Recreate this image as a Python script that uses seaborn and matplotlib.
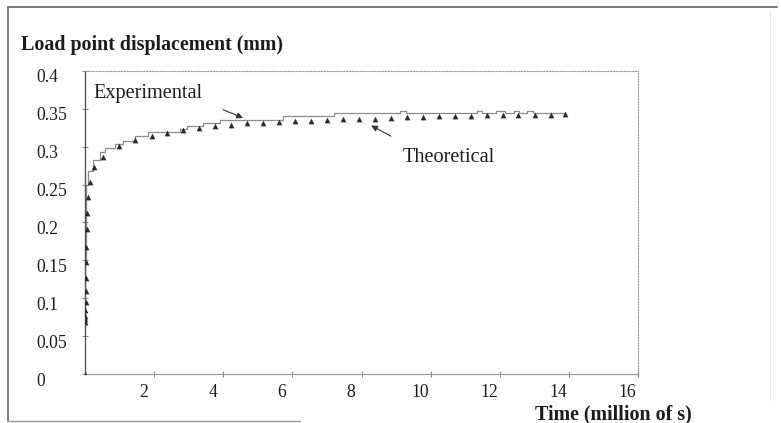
import matplotlib
matplotlib.use("Agg")
import matplotlib.pyplot as plt
import seaborn as sns
from matplotlib.transforms import ScaledTranslation
from matplotlib.lines import Line2D

# ---------------- data ----------------
theo_t = [0.0, 0.003, 0.006, 0.009, 0.012, 0.016, 0.02, 0.025, 0.03, 0.035,
          0.045, 0.06, 0.09, 0.14, 0.26, 0.52, 0.98, 1.45, 1.94, 2.37,
          2.84, 3.30, 3.76, 4.22, 4.69, 5.15, 5.61, 6.08, 6.54, 7.00,
          7.47, 7.93, 8.39, 8.85, 9.32, 9.78, 10.24, 10.71, 11.17, 11.63,
          12.09, 12.53, 13.03, 13.49, 13.89]
theo_v = [0.0, 0.068, 0.072, 0.077, 0.085, 0.095, 0.109, 0.127, 0.148, 0.168,
          0.192, 0.213, 0.234, 0.254, 0.273, 0.287, 0.301, 0.309, 0.314, 0.318,
          0.322, 0.325, 0.327, 0.329, 0.331, 0.332, 0.333, 0.334, 0.334, 0.335,
          0.336, 0.336, 0.337, 0.338, 0.339, 0.339, 0.340, 0.341, 0.341, 0.342,
          0.342, 0.342, 0.342, 0.342, 0.343]

exp_t = [0.0, 0.01, 0.02, 0.09, 0.23, 0.43, 0.58, 0.87, 1.10, 1.45,
         1.82, 2.26, 2.75, 2.95, 3.41, 3.53, 3.90, 5.72, 7.20, 9.10,
         9.30, 11.35, 11.50, 11.90, 12.15, 12.40, 12.55, 12.80, 12.95, 13.90]
exp_v = [0.07, 0.15, 0.25, 0.268, 0.283, 0.293, 0.298, 0.303, 0.307, 0.314,
         0.319, 0.320, 0.324, 0.327, 0.331, 0.332, 0.3355, 0.341, 0.345, 0.347,
         0.345, 0.347, 0.345, 0.347, 0.345, 0.347, 0.345, 0.347, 0.345, 0.345]

x_ticks = [2, 4, 6, 8, 10, 12, 14, 16]
x_labels = ["2", "4", "6", "8", "10", "12", "14", "16"]
y_ticks = [0, 0.05, 0.1, 0.15, 0.2, 0.25, 0.3, 0.35, 0.4]
y_labels = ["0", "0.05", "0.1", "0.15", "0.2", "0.25", "0.3", "0.35", "0.4"]

title_text = "Load point displacement (mm)"
xlabel_text = "Time (million of s)"
exp_label = "Experimental"
theo_label = "Theoretical"

# ---------------- style ----------------
sns.set_theme(style="white")
plt.rcParams["font.family"] = ["Liberation Serif", "DejaVu Serif"]
TXT = "#1c1c1c"

W, H = 781, 423
fig = plt.figure(figsize=(W / 100, H / 100), dpi=100)
fig.patch.set_facecolor("white")
ax = fig.add_axes([85 / W, 1 - 374 / H, (638 - 85) / W, (374 - 71) / H])

sns.lineplot(x=exp_t, y=exp_v, drawstyle="steps-post", color="#8c8c8c",
             lw=0.9, ax=ax, estimator=None, sort=False, zorder=2)
sns.scatterplot(x=theo_t, y=theo_v, marker="^", s=17, color="#2a2a2a",
                linewidth=0, ax=ax, zorder=3)

ax.set_xlim(0, 16)
ax.set_ylim(0, 0.4)
ax.set_xticks(x_ticks)
ax.set_xticklabels(x_labels)
ax.set_yticks(y_ticks)
ax.set_yticklabels(y_labels, ha="left")

for s in ["top", "right"]:
    ax.spines[s].set_linestyle((0, (1, 1.5)))
    ax.spines[s].set_color("#9a9a9a")
    ax.spines[s].set_linewidth(0.8)
ax.spines["left"].set_color("#555555")
ax.spines["left"].set_linewidth(1.0)
ax.spines["bottom"].set_color("#9a9a9a")
ax.spines["bottom"].set_linewidth(0.9)

ax.tick_params(axis="x", direction="inout", length=4, width=0.8, color="#888888",
               labelsize=12.7, labelcolor=TXT, pad=5, bottom=True)
ax.tick_params(axis="y", direction="inout", length=4, width=0.8, color="#888888",
               labelsize=12.7, labelcolor=TXT, pad=33, left=True)

for lab in ax.get_xticklabels():
    lab.set_transform(lab.get_transform() + ScaledTranslation(-10.5 / 100, 0, fig.dpi_scale_trans))
for lab in ax.get_yticklabels():
    lab.set_transform(lab.get_transform() + ScaledTranslation(0, -5 / 100, fig.dpi_scale_trans))

ax.set_xlabel(xlabel_text, fontsize=14.4, fontweight="bold", color=TXT, ha="right", va="center")
ax.xaxis.set_label_coords((692 - 85) / (638 - 85), (374 - 414) / (374 - 71))
ax.set_ylabel("")

fig.text(21 / W, 1 - 45 / H, title_text, fontsize=14.4, fontweight="bold",
         color=TXT, ha="left", va="center")

# annotations
ax.text(0.25, 0.365, exp_label, fontsize=14.6, color=TXT, ha="left", va="baseline")
ax.annotate("", xy=(4.57, 0.338), xytext=(3.99, 0.349),
            arrowprops=dict(arrowstyle="-|>", lw=0.8, color="#333333",
                            mutation_scale=9, shrinkA=0, shrinkB=0))
ax.text(9.2, 0.28, theo_label, fontsize=14.6, color=TXT, ha="left", va="baseline")
ax.annotate("", xy=(8.28, 0.328), xytext=(8.85, 0.314),
            arrowprops=dict(arrowstyle="-|>", lw=0.8, color="#333333",
                            mutation_scale=9, shrinkA=0, shrinkB=0))

# outer figure frame
fig.add_artist(Line2D([8 / W, 777 / W], [1 - 7 / H, 1 - 7 / H], color="#6e6e6e", lw=1.3))
fig.add_artist(Line2D([8 / W, 8 / W], [1 - 7 / H, 1 - 421 / H], color="#6e6e6e", lw=1.3))
fig.add_artist(Line2D([8 / W, 300 / W], [1 - 421 / H, 1 - 421 / H], color="#9a9a9a", lw=1.0))
fig.add_artist(Line2D([770 / W, 770 / W], [1 - 10 / H, 1 - 400 / H], color="#e4e4e4", lw=0.8))

fig.savefig("out.png", dpi=100)
